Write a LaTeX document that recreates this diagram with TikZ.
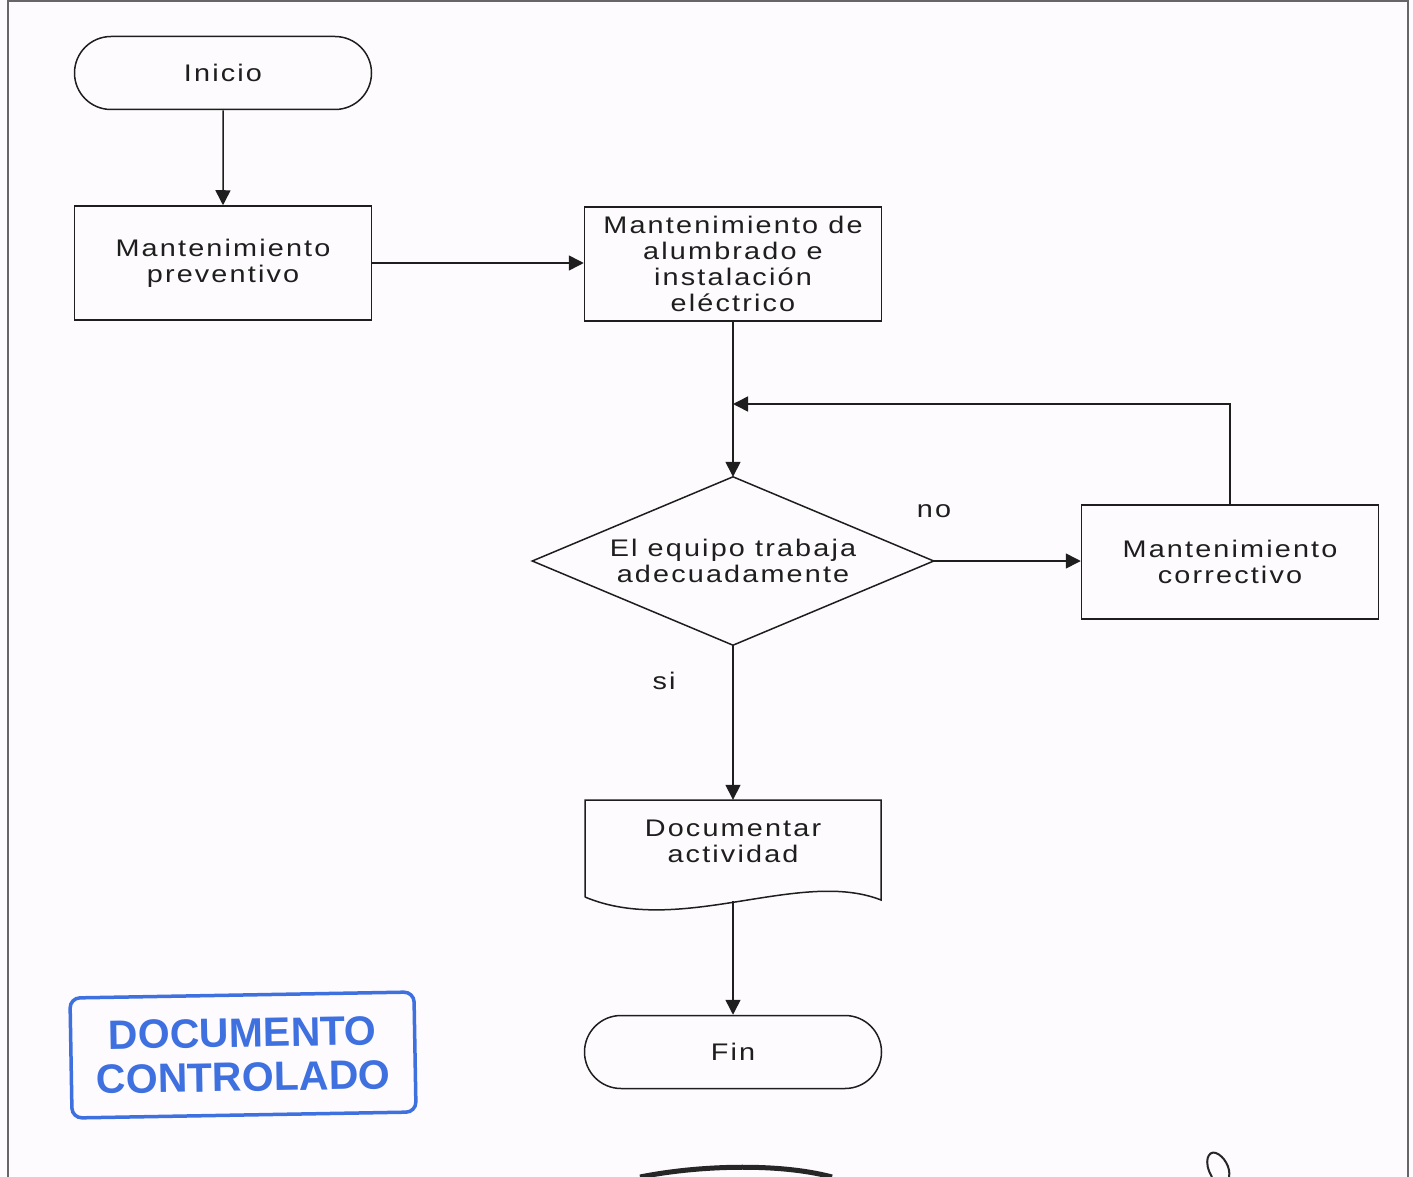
\documentclass[tikz,border=0pt]{standalone}
\usepackage{fontspec}
\setmainfont{Liberation Sans}
\newfontfamily\flowfont[FakeStretch=1.2,LetterSpace=9]{Liberation Sans}
\usetikzlibrary{arrows.meta,shapes.misc,calc}
\definecolor{stampblue}{RGB}{62,112,224}
\definecolor{paper}{RGB}{253,251,253}
\definecolor{ink}{RGB}{30,30,30}
\begin{document}
\begin{tikzpicture}[x=1pt,y=-1pt,
  every node/.style={font=\flowfont\fontsize{24}{26}\selectfont, align=center, text=ink},
  shapeline/.style={draw=ink, line width=1.5pt},
  box/.style={shapeline, rectangle, minimum width=297pt, minimum height=114pt, inner sep=0pt},
  term/.style={shapeline, rounded rectangle, minimum width=297pt, minimum height=73pt, inner sep=0pt},
  arr/.style={draw=ink, line width=1.5pt, -{Triangle[length=15pt,width=15pt]}},
  lbl/.style={inner sep=0pt},
  stamp/.style={draw=stampblue, line width=3.5pt, rounded corners=10pt, minimum width=344pt, minimum height=120pt,
    rotate=1, text=stampblue, font=\fontsize{41}{44}\selectfont\bfseries, inner sep=0pt},
  frame/.style={draw=black!60, line width=2.5pt}
]
\useasboundingbox[fill=paper] (0,0) rectangle (1413,1177);
% frame
\draw[frame] (8,1177) -- (8,1) -- (1408,1) -- (1408,1177);

% nodes
\node[term] (start) at (223,73) {Inicio};
\node[box] (prev) at (223,263) {Mantenimiento\\preventivo};
\node[box] (alum) at (733,264) {Mantenimiento de\\alumbrado e\\instalación\\eléctrico};
\node[minimum width=401pt, minimum height=168pt, inner sep=0pt] (dec) at (733,561) {El equipo trabaja\\adecuadamente};
\draw[shapeline] (dec.north) -- (dec.east) -- (dec.south) -- (dec.west) -- cycle;
\node[box] (corr) at (1230,562) {Mantenimiento\\correctivo};
\node[minimum width=296pt, minimum height=82pt, inner sep=0pt] (doc) at (733,841) {Documentar\\actividad};
\draw[shapeline] (585,897) -- (585,800) -- (881,800) -- (881,900)
  .. controls (800,868) and (680,937) .. (585,897);
\coordinate (docbot) at (733,901);
\node[term] (fin) at (733,1052) {Fin};
\coordinate (join) at (733,404);

% labels
\node[lbl] (no) at (934,511) {no};
\node[lbl] (si) at (664,681) {si};

% connectors
\draw[arr] (start) -- (prev);
\draw[arr] (prev.east) -- (prev.east -| alum.west);
\draw[arr] (alum) -- (dec.north);
\draw[arr] (corr.north) |- (join);
\draw[arr] (dec.east) -- (dec.east -| corr.west);
\draw[arr] (dec.south) -- (doc.north);
\draw[arr] (docbot) -- (fin.north);

% stamp
\node[stamp] (stampbox) at (243,1055) {DOCUMENTO\\CONTROLADO};

% signature fragments
\draw[line width=5pt, black!85] (640,1177) .. controls (700,1165) and (780,1163) .. (832,1177);
\draw[line width=2pt, black!85] (1212,1177) .. controls (1203,1162) and (1208,1150) .. (1216,1153)
  .. controls (1224,1156) and (1231,1168) .. (1229,1177);
\end{tikzpicture}
\end{document}
